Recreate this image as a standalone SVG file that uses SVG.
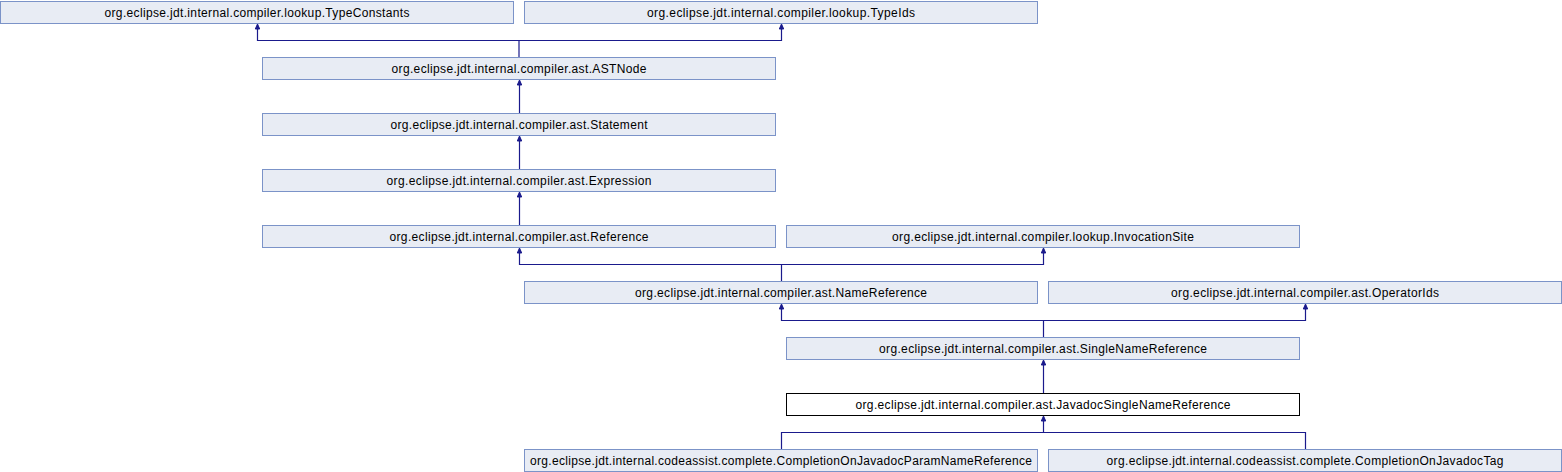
<svg xmlns="http://www.w3.org/2000/svg" width="1562" height="472" viewBox="0 0 1562 472">
<style>
.n rect{fill:#e8ecf4;stroke:#7b93c8;stroke-width:1}
.n.cur rect{fill:#ffffff;stroke:#000000}
.n text{font-family:"Liberation Sans",Arial,sans-serif;font-size:12px;fill:#000;text-anchor:middle}
.e path{fill:none;stroke:#1a1a8c;stroke-width:1.2}
.e polygon{fill:#1a1a8c;stroke:#1a1a8c;stroke-width:1}
</style>
<rect width="1562" height="472" fill="#ffffff"/>
<g class="e" id="connectors">
<path d="M519,57V40.5H257.5V29"/><path d="M519,40.5H781.5V29"/>
<polygon points="257.5,24 255.3,29 259.7,29"/><polygon points="781.5,24 779.3,29 783.7,29"/>
<path d="M519.5,113V85"/><polygon points="519.5,80 517.3,85 521.7,85"/>
<path d="M519.5,169V141"/><polygon points="519.5,136 517.3,141 521.7,141"/>
<path d="M519.5,225V197"/><polygon points="519.5,192 517.3,197 521.7,197"/>
<path d="M781.5,281V264.5H519.5V253"/><path d="M781.5,264.5H1043.5V253"/>
<polygon points="519.5,248 517.3,253 521.7,253"/><polygon points="1043.5,248 1041.3,253 1045.7,253"/>
<path d="M1043.5,337V320.5H781.5V309"/><path d="M1043.5,320.5H1305.5V309"/>
<polygon points="781.5,304 779.3,309 783.7,309"/><polygon points="1305.5,304 1303.3,309 1307.7,309"/>
<path d="M1043.5,393V365"/><polygon points="1043.5,360 1041.3,365 1045.7,365"/>
<path d="M781.5,449V432.5H1305.5V449"/><path d="M1043.5,432.5V421"/>
<polygon points="1043.5,416 1041.3,421 1045.7,421"/>
</g>
<g class="n" id="TypeConstants"><rect x="0.5" y="1.5" width="513" height="22"/><text x="257" y="16.5" textLength="305" lengthAdjust="spacing">org.eclipse.jdt.internal.compiler.lookup.TypeConstants</text></g>
<g class="n" id="TypeIds"><rect x="524.5" y="1.5" width="513" height="22"/><text x="781" y="16.5" textLength="268" lengthAdjust="spacing">org.eclipse.jdt.internal.compiler.lookup.TypeIds</text></g>
<g class="n" id="ASTNode"><rect x="262.5" y="57.5" width="513" height="22"/><text x="519" y="72.5" textLength="255" lengthAdjust="spacing">org.eclipse.jdt.internal.compiler.ast.ASTNode</text></g>
<g class="n" id="Statement"><rect x="262.5" y="113.5" width="513" height="22"/><text x="519" y="128.5" textLength="257" lengthAdjust="spacing">org.eclipse.jdt.internal.compiler.ast.Statement</text></g>
<g class="n" id="Expression"><rect x="262.5" y="169.5" width="513" height="22"/><text x="519" y="184.5" textLength="265" lengthAdjust="spacing">org.eclipse.jdt.internal.compiler.ast.Expression</text></g>
<g class="n" id="Reference"><rect x="262.5" y="225.5" width="513" height="22"/><text x="519" y="240.5" textLength="259" lengthAdjust="spacing">org.eclipse.jdt.internal.compiler.ast.Reference</text></g>
<g class="n" id="InvocationSite"><rect x="786.5" y="225.5" width="513" height="22"/><text x="1043" y="240.5" textLength="302" lengthAdjust="spacing">org.eclipse.jdt.internal.compiler.lookup.InvocationSite</text></g>
<g class="n" id="NameReference"><rect x="524.5" y="281.5" width="513" height="22"/><text x="781" y="296.5" textLength="292" lengthAdjust="spacing">org.eclipse.jdt.internal.compiler.ast.NameReference</text></g>
<g class="n" id="OperatorIds"><rect x="1048.5" y="281.5" width="513" height="22"/><text x="1305" y="296.5" textLength="268" lengthAdjust="spacing">org.eclipse.jdt.internal.compiler.ast.OperatorIds</text></g>
<g class="n" id="SingleNameReference"><rect x="786.5" y="337.5" width="513" height="22"/><text x="1043" y="352.5" textLength="328" lengthAdjust="spacing">org.eclipse.jdt.internal.compiler.ast.SingleNameReference</text></g>
<g class="n cur" id="JavadocSingleNameReference"><rect x="786.5" y="393.5" width="513" height="22"/><text x="1043" y="408.5" textLength="375" lengthAdjust="spacing">org.eclipse.jdt.internal.compiler.ast.JavadocSingleNameReference</text></g>
<g class="n" id="CompletionOnJavadocParamNameReference"><rect x="524.5" y="449.5" width="513" height="22"/><text x="781" y="464.5" textLength="502" lengthAdjust="spacing">org.eclipse.jdt.internal.codeassist.complete.CompletionOnJavadocParamNameReference</text></g>
<g class="n" id="CompletionOnJavadocTag"><rect x="1048.5" y="449.5" width="513" height="22"/><text x="1305" y="464.5" textLength="397" lengthAdjust="spacing">org.eclipse.jdt.internal.codeassist.complete.CompletionOnJavadocTag</text></g>
</svg>
